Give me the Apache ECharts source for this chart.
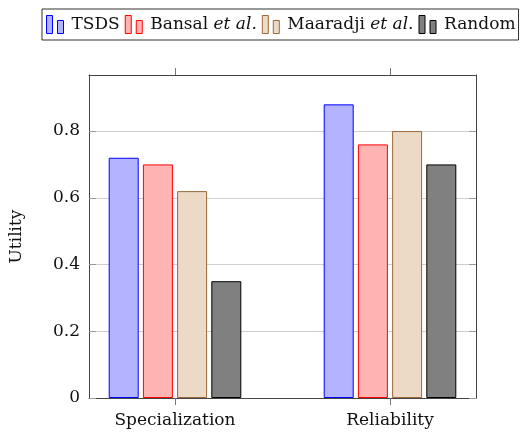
<!DOCTYPE html>
<html><head><meta charset="utf-8">
<script src="https://cdn.jsdelivr.net/npm/echarts@6/dist/echarts.min.js"></script>
<style>html,body{margin:0;padding:0;background:#fff}#c{width:520px;height:433px}</style>
</head><body><div id="c"></div>
<script>
const categories = ['Specialization', 'Reliability'];
const seriesNames = ['TSDS', 'Bansal', 'Maaradji', 'Random'];
const tsds = [0.72, 0.88];
const bansal = [0.70, 0.76];
const maaradji = [0.62, 0.80];
const random = [0.35, 0.70];
const yTicks = [0, 0.2, 0.4, 0.6, 0.8];

const FONT = 'DejaVu Serif';
const FS = 17;
const fills = ['#b3b3ff', '#ffb3b3', '#ecd9c6', '#808080'];
const borders = ['#0000ff', '#ff0000', '#9a6a3a', '#000000'];
const values = [tsds, bansal, maaradji, random];
const legendLabels = {
  TSDS: '{p|}{n|TSDS}',
  Bansal: '{p|}{n|Bansal }{i|et al.}',
  Maaradji: '{p|}{n|Maaradji }{i|et al.}',
  Random: '{p|}{n|Random}'
};
const icon = 'path://M0,0h6v18h-6zM11,5h6v13h-6z';

const chart = echarts.init(document.getElementById('c'), null, {renderer: 'canvas'});
const xIdx = categories.map((_, i) => i);
chart.setOption({
  animation: false,
  textStyle: {fontFamily: FONT},
  grid: {left: 88, right: 44, top: 75, bottom: 35},
  legend: {
    top: 9, left: 42,
    data: seriesNames,
    icon: icon,
    itemWidth: 17, itemHeight: 18, itemGap: 5,
    itemStyle: {borderWidth: 1},
    borderColor: '#333', borderWidth: 1,
    padding: [6, 3, 6, 4],
    formatter: n => legendLabels[n],
    textStyle: {
      fontFamily: FONT, fontSize: FS, color: '#111',
      rich: {
        p: {width: 3},
        n: {fontFamily: FONT, fontSize: FS, color: '#111'},
        i: {fontFamily: FONT, fontSize: FS, fontStyle: 'italic', color: '#111'}
      }
    }
  },
  xAxis: [{
    type: 'value', min: -0.4, max: 1.4, position: 'bottom',
    splitLine: {show: false},
    axisLine: {show: true, onZero: false, lineStyle: {color: '#444', width: 1}},
    axisTick: {show: true, inside: false, length: 7, customValues: xIdx, lineStyle: {color: '#777'}},
    axisLabel: {customValues: xIdx, formatter: v => categories[Math.round(v)], fontFamily: FONT, fontSize: FS, color: '#111', margin: 14}
  }, {
    type: 'value', min: -0.4, max: 1.4, position: 'top',
    splitLine: {show: false},
    axisLine: {show: true, onZero: false, lineStyle: {color: '#444', width: 1}},
    axisTick: {show: true, inside: false, length: 7, customValues: xIdx, lineStyle: {color: '#777'}},
    axisLabel: {show: false}
  }],
  yAxis: [{
    type: 'value', min: 0, max: 0.968, interval: 0.2, position: 'left',
    name: 'Utility', nameLocation: 'middle', nameGap: 64, nameRotate: 90,
    nameTextStyle: {fontFamily: FONT, fontSize: FS, color: '#111'},
    axisLine: {show: true, onZero: false, lineStyle: {color: '#444', width: 1}},
    axisTick: {show: true, inside: true, length: 7, customValues: yTicks, lineStyle: {color: '#999'}},
    axisLabel: {customValues: yTicks, formatter: v => (v === 0 ? '0' : String(+v.toFixed(1))), fontFamily: FONT, fontSize: FS, color: '#111', margin: 9},
    splitLine: {show: true, lineStyle: {color: '#cfcfcf', width: 1}}
  }, {
    type: 'value', min: 0, max: 0.968, interval: 0.2, position: 'right',
    axisLine: {show: true, onZero: false, lineStyle: {color: '#444', width: 1}},
    axisTick: {show: true, inside: true, length: 7, customValues: yTicks, lineStyle: {color: '#999'}},
    axisLabel: {show: false},
    splitLine: {show: false}
  }],
  series: seriesNames.map((name, s) => ({
    name: name,
    type: 'bar',
    xAxisIndex: 0, yAxisIndex: 0,
    barWidth: 30, barGap: '14%',
    itemStyle: {color: fills[s], borderColor: borders[s], borderWidth: 1},
    data: values[s].map((v, i) => [xIdx[i], v])
  }))
});
</script></body></html>
